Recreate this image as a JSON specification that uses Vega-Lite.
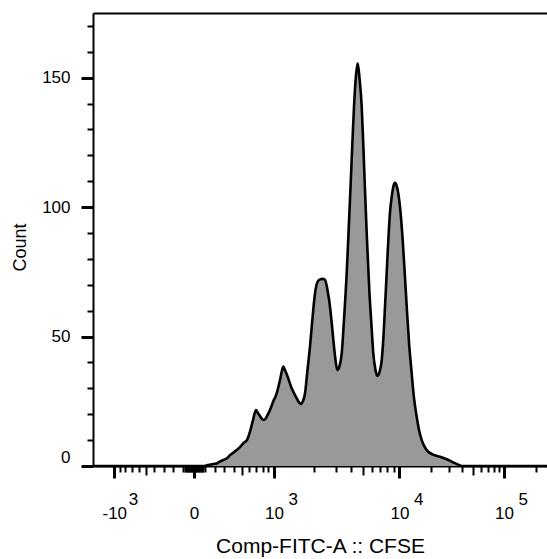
{
  "$schema": "https://vega.github.io/schema/vega-lite/v6.json",
  "autosize": {"type": "none"},
  "width": 454,
  "height": 453,
  "padding": {"left": 93, "top": 13, "right": 0, "bottom": 93},
  "background": "white",
  "config": {
    "view": {"stroke": null},
    "axis": {
      "labelFont": "Liberation Sans",
      "titleFont": "Liberation Sans",
      "labelColor": "black",
      "titleColor": "black",
      "domainColor": "black",
      "tickColor": "black",
      "grid": false,
      "labelOverlap": false,
      "titleFontWeight": "normal"
    }
  },
  "data": {
    "values": [
      {"channel": 0, "count": 0},
      {"channel": 250, "count": 0},
      {"channel": 259, "count": 0.4},
      {"channel": 272, "count": 0.8},
      {"channel": 279, "count": 1.0},
      {"channel": 286, "count": 1.7},
      {"channel": 294, "count": 2.3},
      {"channel": 302, "count": 3.0},
      {"channel": 309, "count": 4.2},
      {"channel": 317, "count": 5.2},
      {"channel": 324, "count": 6.2},
      {"channel": 332, "count": 7.4},
      {"channel": 339, "count": 8.8},
      {"channel": 347, "count": 10.0},
      {"channel": 354, "count": 13.2},
      {"channel": 361, "count": 17.8},
      {"channel": 367.6, "count": 21.6},
      {"channel": 372, "count": 20.5},
      {"channel": 376.6, "count": 19.3},
      {"channel": 381, "count": 18.2},
      {"channel": 385.7, "count": 17.8},
      {"channel": 390, "count": 18.5},
      {"channel": 392.4, "count": 19.3},
      {"channel": 399.2, "count": 21.6},
      {"channel": 406, "count": 24.7},
      {"channel": 414.3, "count": 28.1},
      {"channel": 421.8, "count": 33.2},
      {"channel": 429.2, "count": 38.4},
      {"channel": 433, "count": 37.0},
      {"channel": 437.6, "count": 35.2},
      {"channel": 443, "count": 32.5},
      {"channel": 448.2, "count": 30.0},
      {"channel": 457.9, "count": 26.7},
      {"channel": 463, "count": 25.0},
      {"channel": 468.5, "count": 24.0},
      {"channel": 473.7, "count": 25.1},
      {"channel": 478.2, "count": 28.1},
      {"channel": 483.8, "count": 37.1},
      {"channel": 489.4, "count": 46.1},
      {"channel": 495.1, "count": 57.2},
      {"channel": 500.7, "count": 66.7},
      {"channel": 506.3, "count": 71.1},
      {"channel": 512, "count": 72.1},
      {"channel": 518, "count": 72.3},
      {"channel": 523.3, "count": 71.9},
      {"channel": 528.9, "count": 68.0},
      {"channel": 534.6, "count": 61.5},
      {"channel": 539.1, "count": 54.1},
      {"channel": 543.6, "count": 46.1},
      {"channel": 547, "count": 40.9},
      {"channel": 551, "count": 37.1},
      {"channel": 556, "count": 38.6},
      {"channel": 561, "count": 43.5},
      {"channel": 566.1, "count": 56.4},
      {"channel": 572.2, "count": 74.4},
      {"channel": 576.8, "count": 91.9},
      {"channel": 581.2, "count": 109.2},
      {"channel": 585.3, "count": 125.9},
      {"channel": 588.7, "count": 138.8},
      {"channel": 593.2, "count": 151.0},
      {"channel": 597, "count": 155.6},
      {"channel": 601.1, "count": 149.9},
      {"channel": 606.1, "count": 138.8},
      {"channel": 610.1, "count": 122.1},
      {"channel": 613.5, "count": 106.6},
      {"channel": 618, "count": 87.3},
      {"channel": 623.2, "count": 68.0},
      {"channel": 628.2, "count": 54.1},
      {"channel": 632.2, "count": 43.5},
      {"channel": 637.2, "count": 37.1},
      {"channel": 641.2, "count": 34.8},
      {"channel": 646.2, "count": 36.3},
      {"channel": 651.2, "count": 40.9},
      {"channel": 655.2, "count": 50.2},
      {"channel": 658.6, "count": 61.5},
      {"channel": 662.5, "count": 74.9},
      {"channel": 666.1, "count": 87.3},
      {"channel": 669.9, "count": 98.1},
      {"channel": 673.8, "count": 104.0},
      {"channel": 677.8, "count": 108.2},
      {"channel": 681.2, "count": 109.4},
      {"channel": 685, "count": 108.2},
      {"channel": 688.6, "count": 105.3},
      {"channel": 693.6, "count": 98.1},
      {"channel": 698.5, "count": 87.3},
      {"channel": 703, "count": 74.9},
      {"channel": 707.6, "count": 61.5},
      {"channel": 712.7, "count": 47.9},
      {"channel": 718.8, "count": 35.8},
      {"channel": 724, "count": 26.3},
      {"channel": 730.1, "count": 19.0},
      {"channel": 735.3, "count": 13.9},
      {"channel": 741.4, "count": 10.0},
      {"channel": 748.8, "count": 7.15},
      {"channel": 756.3, "count": 5.5},
      {"channel": 766.9, "count": 4.4},
      {"channel": 782.7, "count": 3.6},
      {"channel": 796.2, "count": 2.7},
      {"channel": 809.1, "count": 1.7},
      {"channel": 819.9, "count": 0.8},
      {"channel": 831.6, "count": 0},
      {"channel": 1024, "count": 0}
    ]
  },
  "layer": [
    {
      "mark": {"type": "area", "color": "#999999", "interpolate": "monotone"},
      "encoding": {
        "x": {
          "field": "channel", "type": "quantitative",
          "scale": {"domain": [0, 1024], "nice": false, "zero": false},
          "axis": {
            "orient": "bottom",
            "title": "Comp-FITC-A :: CFSE",
            "titleFontSize": 21,
            "titlePadding": 14,
            "values": [48.0, 227.8, 408.2, 691.3, 927.0],
            "labelExpr": "datum.value < 100 ? '-10' : datum.value < 300 ? '0' : '10'",
            "labelFontSize": 17,
            "labelPadding": 27,
            "labelFlush": false,
            "tickSize": 12,
            "tickWidth": 3,
            "domainWidth": 2
          }
        },
        "y": {
          "field": "count", "type": "quantitative",
          "scale": {"domain": [0, 175], "nice": false},
          "axis": {
            "orient": "left",
            "title": "Count",
            "titleFontSize": 18,
            "titlePadding": 12,
            "titleY": 234,
            "values": [0, 50, 100, 150],
            "labelFontSize": 17,
            "labelPadding": 11,
            "labelFlush": true,
            "tickSize": 12,
            "tickWidth": 3,
            "domainWidth": 2
          }
        }
      }
    },
    {
      "mark": {"type": "line", "color": "black", "strokeWidth": 2.6, "interpolate": "monotone"},
      "encoding": {
        "x": {
          "field": "channel", "type": "quantitative",
          "axis": {
            "orient": "bottom",
            "title": null,
            "values": [48.0, 408.2, 691.3, 927.0],
            "labelExpr": "datum.value < 500 ? '3' : datum.value < 800 ? '4' : '5'",
            "labelFontSize": 17,
            "labelAlign": "left",
            "labelOffset": 14,
            "labelPadding": 13,
            "labelFlush": false,
            "ticks": true,
            "tickSize": 12,
            "tickWidth": 0,
            "domain": false
          }
        },
        "y": {
          "field": "count", "type": "quantitative",
          "axis": {
            "orient": "left",
            "title": null,
            "values": [10, 20, 30, 40, 60, 70, 80, 90, 110, 120, 130, 140, 160, 170],
            "labels": false,
            "tickSize": 6,
            "tickWidth": 2,
            "domain": false
          }
        }
      }
    },
    {
      "mark": {"type": "line", "strokeOpacity": 0},
      "encoding": {
        "x": {
          "field": "channel", "type": "quantitative",
          "axis": {
            "orient": "bottom",
            "title": null,
            "values": [120.2, 335.4, 607.9, 856.0],
            "labels": false,
            "tickSize": 9,
            "tickWidth": 2,
            "domain": false
          }
        },
        "y": {"field": "count", "type": "quantitative", "axis": null}
      }
    },
    {
      "mark": {"type": "line", "strokeOpacity": 0},
      "encoding": {
        "x": {
          "field": "channel", "type": "quantitative",
          "axis": {
            "orient": "bottom",
            "title": null,
            "values": [59.8, 72.6, 87.1, 102.8, 138.7, 159.2, 181.3, 204.1, 206.5, 208.8, 211.2, 213.6, 215.9, 218.3, 220.7, 223.1, 225.4, 230.2, 232.5, 234.9, 237.3, 239.7, 242.0, 244.4, 246.8, 249.1, 251.5, 274.3, 296.4, 316.9, 352.8, 368.5, 383.0, 395.8, 498.5, 547.0, 581.9, 630.0, 647.3, 663.1, 677.8, 762.4, 803.9, 833.2, 874.7, 890.5, 904.0, 916.2, 998.1],
            "labels": false,
            "tickSize": 6,
            "tickWidth": 2,
            "domain": false
          }
        },
        "y": {"field": "count", "type": "quantitative", "axis": null}
      }
    },
    {
      "mark": {"type": "line", "strokeOpacity": 0},
      "encoding": {
        "x": {
          "field": "channel", "type": "quantitative",
          "axis": {
            "orient": "top",
            "title": null,
            "labels": false,
            "ticks": false,
            "domain": true,
            "domainWidth": 2
          }
        },
        "y": {"field": "count", "type": "quantitative", "axis": null}
      }
    }
  ],
  "resolve": {"axis": {"x": "independent", "y": "independent"}}
}
